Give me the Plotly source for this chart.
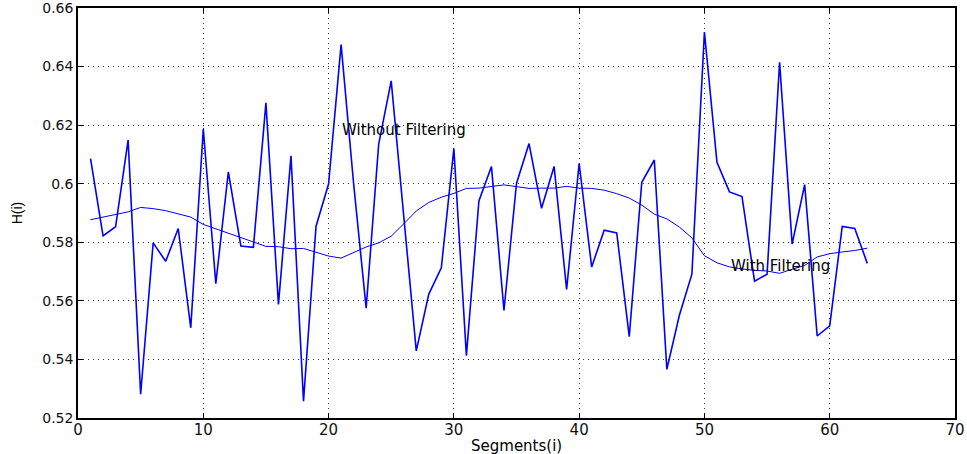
import plotly.graph_objects as go

segments = list(range(1, 64))

h_raw = [
    0.6086, 0.5822, 0.5853, 0.6149, 0.5281, 0.5798, 0.5735, 0.5847, 0.5508, 0.6187,
    0.5659, 0.6040, 0.5787, 0.5783, 0.6276, 0.5588, 0.6095, 0.5257, 0.5855, 0.5999,
    0.6475, 0.6000, 0.5575, 0.6135, 0.6351, 0.5900, 0.5429, 0.5623, 0.5713, 0.6120,
    0.5413, 0.5941, 0.6059, 0.5567, 0.6001, 0.6137, 0.5916, 0.6059, 0.5639, 0.6069,
    0.5716, 0.5841, 0.5832, 0.5478, 0.6005, 0.6081, 0.5366, 0.5551, 0.5691, 0.6518,
    0.6073, 0.5972, 0.5956, 0.5667, 0.5691, 0.6415, 0.5794, 0.5997, 0.5480, 0.5515,
    0.5854, 0.5847, 0.5728,
]

h_filtered = [
    0.5877, 0.5886, 0.5895, 0.5904, 0.5919, 0.5915, 0.5908, 0.5898, 0.5886, 0.5861,
    0.5846, 0.5829, 0.5815, 0.5800, 0.5786, 0.5785, 0.5778, 0.5779, 0.5767, 0.5753,
    0.5746, 0.5764, 0.5784, 0.5798, 0.5821, 0.5863, 0.5907, 0.5936, 0.5954, 0.5967,
    0.5984, 0.5985, 0.5990, 0.5996, 0.5990, 0.5984, 0.5985, 0.5985, 0.5991, 0.5985,
    0.5984, 0.5978, 0.5966, 0.5951, 0.5927, 0.5896, 0.5880, 0.5852, 0.5815, 0.5754,
    0.5730, 0.5716, 0.5709, 0.5704, 0.5702, 0.5694, 0.5708, 0.5721, 0.5750, 0.5761,
    0.5767, 0.5772, 0.5780,
]

x_ticks = [0, 10, 20, 30, 40, 50, 60, 70]
y_ticks = [0.52, 0.54, 0.56, 0.58, 0.6, 0.62, 0.64, 0.66]
y_tick_text = ["0.52", "0.54", "0.56", "0.58", "0.6", "0.62", "0.64", "0.66"]

WIDE = "DejaVu Sans, Verdana, sans-serif"
NARROW = "Liberation Sans, Arial, sans-serif"

fig = go.Figure()
fig.add_trace(go.Scatter(x=segments, y=h_raw, mode="lines",
                         line=dict(color="#0000ff", width=1.6), name="Without Filtering"))
fig.add_trace(go.Scatter(x=segments, y=h_filtered, mode="lines",
                         line=dict(color="#0000ff", width=1.0), name="With Filtering"))

fig.add_annotation(x=20.9, y=0.6182, text="Without Filtering", showarrow=False,
                   xanchor="left", yanchor="middle",
                   font=dict(family=WIDE, size=15, color="black"))
fig.add_annotation(x=52.0, y=0.5719, text="With Filtering", showarrow=False,
                   xanchor="left", yanchor="middle",
                   font=dict(family=WIDE, size=15, color="black"))

# x-axis title, placed just below the tick labels
fig.add_annotation(x=0.5, y=-0.069, xref="paper", yref="paper", text="Segments(i)",
                   showarrow=False, xanchor="center", yanchor="middle",
                   font=dict(family=WIDE, size=15, color="black"))

axis_common = dict(
    showline=True, linecolor="black", linewidth=1.5, mirror="ticks",
    ticks="inside", ticklen=5, tickcolor="black",
    showgrid=True, gridcolor="#333333", gridwidth=1, griddash="1px,4px",
    zeroline=False, automargin=False, ticklabeloverflow="allow",
)

fig.update_xaxes(range=[0, 70], tickvals=x_ticks, ticklabelstandoff=-3, **axis_common,
                 tickfont=dict(family=WIDE, size=15, color="#111111"))
fig.update_yaxes(range=[0.52, 0.66], tickvals=y_ticks, ticktext=y_tick_text, **axis_common,
                 tickfont=dict(family=WIDE, size=14, color="#111111"),
                 title=dict(text="H(i)", standoff=16,
                            font=dict(family=NARROW, size=14, color="black")))

fig.update_layout(
    width=967, height=454,
    margin=dict(l=78, r=12, t=8, b=36),
    paper_bgcolor="white", plot_bgcolor="white",
    showlegend=False,
)

fig.write_html("out.html")
